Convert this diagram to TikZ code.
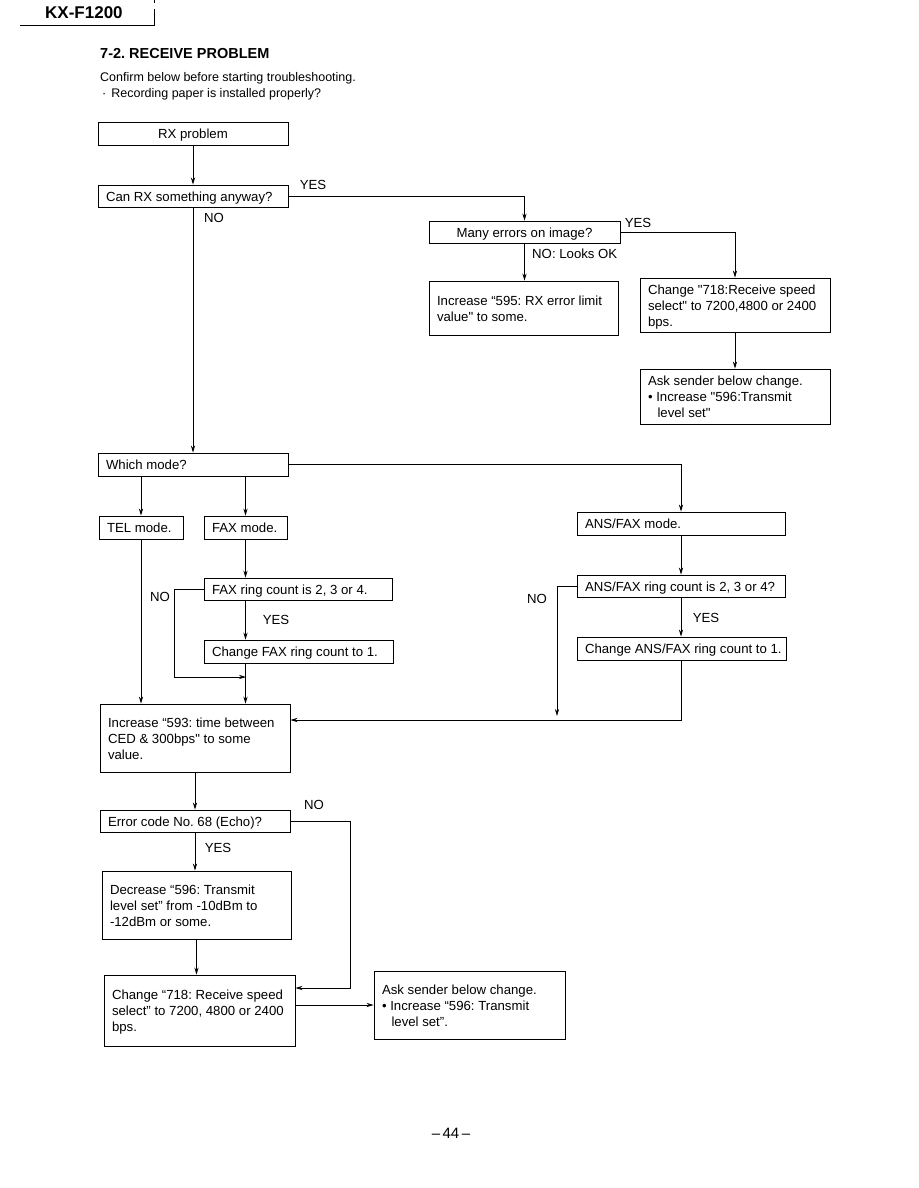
\documentclass[tikz,border=0pt]{standalone}
\usepackage{fontspec}
\setmainfont{Liberation Sans}[Ligatures=TeXOff]
\usetikzlibrary{arrows.meta}
\frenchspacing
\newcommand\bxfont{\fontsize{13.2}{16}\selectfont}
\newcommand\lw[1]{\raisebox{-1.8pt}[\height][\depth]{#1}}
\newcommand\bl[2]{\makebox[#1][l]{\lw{\begin{tabular}{@{}l@{}}#2\end{tabular}}}}
\begin{document}
\begin{tikzpicture}[x=1pt,y=-1pt,
  box/.style={draw, line width=0.85pt, inner xsep=8pt, inner ysep=0pt, font=\bxfont, anchor=center},
  arr/.style={line width=0.85pt, -{Stealth[length=7pt,width=4.2pt]}},
  ln/.style={line width=0.85pt},
  lbl/.style={font=\bxfont, inner sep=0pt}]
\useasboundingbox[fill=white] (0,0) rectangle (918,1188);

% header
\node[anchor=west, inner sep=0pt, font=\fontsize{17}{20}\selectfont\bfseries] (hdr) at (45,13) {KX-F1200};
\draw[ln] (20,25) -- (154,25) -- (154,9);
\draw[ln] (154,0) -- (154,3);
\node[anchor=west, inner sep=0pt, font=\fontsize{14.5}{17}\selectfont\bfseries] (title) at (100,54) {7-2. RECEIVE PROBLEM};
\node[anchor=west, inner sep=0pt, font=\fontsize{12.5}{15}\selectfont] (conf) at (100,78) {Confirm below before starting troubleshooting.};
\node[anchor=west, inner sep=0pt, font=\fontsize{12.5}{15}\selectfont] (paper) at (102,94) {·\hspace{5pt}Recording paper is installed properly?};

% boxes
\node[box, minimum width=190pt, minimum height=23pt] (rx) at (193,133.5) {\lw{\strut RX problem}};
\node[box, minimum width=190pt, minimum height=22pt] (canrx) at (193,196) {\bl{174pt}{Can RX something anyway?}};
\node[box, minimum width=191pt, minimum height=22pt] (many) at (524.5,232) {\lw{\strut Many errors on image?}};
\node[box, minimum width=189pt, minimum height=54pt] (inc595) at (523.5,308) {\bl{173pt}{Increase “595: RX error limit\\value" to some.}};
\node[box, minimum width=190pt, minimum height=54pt] (chgA) at (735,305) {\bl{174pt}{Change "718:Receive speed\\select" to 7200,4800 or 2400\\bps.}};
\node[box, minimum width=190pt, minimum height=55pt] (askA) at (735,396.5) {\bl{174pt}{Ask sender below change.\\\textbullet\ Increase "596:Transmit\\\hspace*{0.72em}level set"}};
\node[box, minimum width=190pt, minimum height=23pt] (which) at (193,464.5) {\bl{174pt}{Which mode?}};
\node[box, minimum width=84pt, minimum height=23pt] (tel) at (141,527.5) {\bl{68pt}{TEL mode.}};
\node[box, minimum width=83pt, minimum height=23pt] (fax) at (245.5,527.5) {\bl{67pt}{FAX mode.}};
\node[box, minimum width=188pt, minimum height=22pt] (fr) at (298,589) {\bl{172pt}{FAX ring count is 2, 3 or 4.}};
\node[box, minimum width=189pt, minimum height=23pt] (fc) at (298.5,651.5) {\bl{173pt}{Change FAX ring count to 1.}};
\node[box, minimum width=190pt, minimum height=68pt] (inc593) at (195,738) {\bl{174pt}{Increase “593: time between\\CED \& 300bps" to some\\value.}};
\node[box, minimum width=208pt, minimum height=23pt] (ansm) at (681,523.5) {\bl{192pt}{ANS/FAX mode.}};
\node[box, minimum width=208pt, minimum height=22pt] (ar) at (681,586) {\bl{192pt}{ANS/FAX ring count is 2, 3 or 4?}};
\node[box, minimum width=209pt, minimum height=23pt] (ac) at (681.5,648.5) {\bl{193pt}{Change ANS/FAX ring count to 1.}};
\node[box, minimum width=190pt, minimum height=22pt] (err) at (195,821) {\bl{174pt}{Error code No. 68 (Echo)?}};
\node[box, minimum width=189pt, minimum height=68pt] (dec) at (196.5,905) {\bl{173pt}{Decrease “596: Transmit\\level set” from -10dBm to\\-12dBm or some.}};
\node[box, minimum width=191pt, minimum height=71pt] (chB) at (199.5,1010.5) {\bl{175pt}{Change “718: Receive speed\\select” to 7200, 4800 or 2400\\bps.}};
\node[box, minimum width=191pt, minimum height=68pt] (askB) at (469.5,1005) {\bl{175pt}{Ask sender below change.\\\textbullet\ Increase “596: Transmit\\\hspace*{0.72em}level set”.}};

% helper coordinates
\coordinate (j1) at (246,677);
\coordinate (j2) at (557,716);
\coordinate (k) at (0,720);
\coordinate (e1) at (350,988);

% connectors
\draw[arr] (rx.south) -- (canrx.north);
\draw[arr] (canrx.south) -- (which.north);
\draw[arr] (canrx.east) -| (many.north);
\draw[arr] (many.east) -| (chgA.north);
\draw[arr] (many.south) -- (many.south |- inc595.north);
\draw[arr] (chgA.south) -- (askA.north);
\draw[arr] (which.east) -| (ansm.north);
\draw[arr] (which.south -| tel.north) -- (tel.north);
\draw[arr] (which.south -| fax.north) -- (fax.north);
\draw[arr] (fax.south) -- (fr.north -| fax.south);
\draw[arr] (fr.south -| fax.south) -- (fc.north -| fax.south);
\draw[arr] (fr.west) -- ++(-29,0) |- (j1);
\draw[arr] (fc.south -| fax.south) -- (inc593.north -| fax.south);
\draw[arr] (tel.south) -- (inc593.north -| tel.south);
\draw[arr] (ansm.south) -- (ar.north);
\draw[arr] (ar.south) -- (ac.north -| ar.south);
\draw[arr] (ar.west) -| (j2);
\draw[arr] (ac.south -| ar.south) |- (k -| inc593.east);
\draw[arr] (inc593.south) -- (err.north);
\draw[arr] (err.south) -- (dec.north -| err.south);
\draw[arr] (dec.south) -- (chB.north -| dec.south);
\draw[arr] (err.east) -| (e1) -- (e1 -| chB.east);
\draw[arr] (askB.west -| chB.east) -- (askB.west);

% labels
\node[lbl] (l1) at (313,185) {YES};
\node[lbl] (l2) at (214,218) {NO};
\node[lbl] (l3) at (638,223) {YES};
\node[lbl, anchor=west] (l4) at (532,254) {NO: Looks OK};
\node[lbl] (l5) at (160,597) {NO};
\node[lbl] (l6) at (276,620) {YES};
\node[lbl] (l7) at (537,599) {NO};
\node[lbl] (l8) at (706,618) {YES};
\node[lbl] (l9) at (314,805) {NO};
\node[lbl] (l10) at (218,848) {YES};

% page number
\node[inner sep=0pt, font=\fontsize{15}{18}\selectfont] (pg) at (451,1133) {–\,44\,–};
\end{tikzpicture}
\end{document}
